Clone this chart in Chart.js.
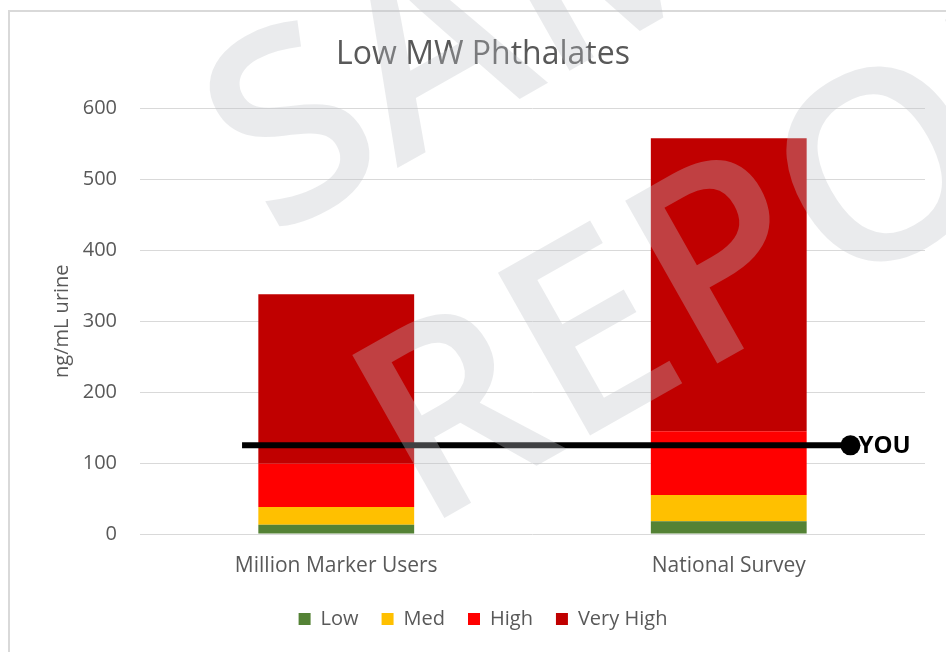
<!DOCTYPE html>
<html>
<head>
<meta charset="utf-8">
<script src="https://cdn.jsdelivr.net/npm/chart.js@4.4.1/dist/chart.umd.min.js"></script>
<style>
html,body{margin:0;padding:0;background:#fff;overflow:hidden}
canvas{display:block}
</style>
</head>
<body>
<canvas id="c" width="946" height="652"></canvas>
<script>
// ---- data ----
const categories = ['Million Marker Users', 'National Survey'];
const seriesNames = ['Low', 'Med', 'High', 'Very High'];
const lowValues = [13, 18];
const medValues = [25, 37];
const highValues = [61, 90];
const veryHighValues = [239, 413];
const yTicks = [0, 100, 200, 300, 400, 500, 600];
const youLabel = 'YOU';
const youValue = 125;
const youSpan = [-0.24, 1.31];
const watermarkLines = ['SAMPLE', 'REPORT'];

const FONT = "'Open Sans', sans-serif";
Chart.defaults.font.family = FONT;

const frame = {
  id: 'frame',
  beforeDraw(chart) {
    const c = chart.ctx;
    c.save();
    c.strokeStyle = '#d9d9d9';
    c.lineWidth = 2;
    c.strokeRect(9, 11, 3000, 3000);
    c.restore();
  }
};

const youText = {
  id: 'youText',
  afterDatasetsDraw(chart) {
    const idx = chart.data.datasets.findIndex(d => d.label === youLabel);
    const meta = chart.getDatasetMeta(idx);
    const pt = meta.data[meta.data.length - 1];
    const c = chart.ctx;
    c.save();
    c.font = "bold 24px " + FONT;
    c.fillStyle = '#000';
    c.textAlign = 'left';
    c.textBaseline = 'middle';
    c.fillText(youLabel, pt.x + 8, pt.y + 1);
    c.restore();
  }
};

const watermark = {
  id: 'watermark',
  afterDraw(chart) {
    const c = chart.ctx;
    const ang = -29.5 * Math.PI / 180;
    const origins = [[272, 239], [423, 530]];
    c.save();
    c.font = "600 262px " + FONT;
    c.fillStyle = 'rgba(192,195,200,0.33)';
    c.textAlign = 'left';
    c.textBaseline = 'alphabetic';
    watermarkLines.forEach((t, i) => {
      c.save();
      c.translate(origins[i][0], origins[i][1]);
      c.rotate(ang);
      c.fillText(t, 0, 0);
      c.restore();
    });
    c.restore();
  }
};

const colors = ['#548235', '#FFC000', '#FF0000', '#C00000'];
const values = [lowValues, medValues, highValues, veryHighValues];

const datasets = seriesNames.map((name, i) => ({
  label: name,
  data: values[i],
  backgroundColor: colors[i],
  borderWidth: 0,
  stack: 'bars',
  grouped: false,
  barPercentage: 0.397,
  categoryPercentage: 1
}));
datasets.push({
  type: 'line',
  label: youLabel,
  data: youSpan.map(x => ({ x: x, y: youValue })),
  xAxisID: 'x2',
  stack: 'you',
  borderColor: '#000',
  borderWidth: 6,
  pointRadius: [0, 10],
  pointHoverRadius: [0, 10],
  pointBackgroundColor: '#000',
  pointBorderWidth: 0,
  fill: false,
  order: -1
});

new Chart(document.getElementById('c'), {
  type: 'bar',
  data: { labels: categories, datasets: datasets },
  plugins: [frame, youText, watermark],
  options: {
    responsive: false,
    animation: false,
    layout: { padding: { top: 36, left: 41, right: 21, bottom: 13 } },
    plugins: {
      title: {
        display: true,
        text: 'Low MW Phthalates',
        color: '#595959',
        font: { size: 32, weight: 'normal' },
        padding: { top: 0, bottom: 34 }
      },
      legend: {
        position: 'bottom',
        labels: {
          boxWidth: 12,
          boxHeight: 12,
          padding: 23,
          color: '#595959',
          font: { size: 20 },
          filter: item => item.text !== youLabel
        }
      },
      tooltip: { enabled: false }
    },
    scales: {
      x: {
        type: 'category',
        stacked: true,
        offset: true,
        grid: { display: false, drawTicks: false, offset: true },
        border: { display: false },
        ticks: { color: '#595959', font: { size: 21 }, padding: 19 },
        afterFit: s => { s.height = 52; }
      },
      x2: { type: 'linear', display: false, offset: false, min: -0.5, max: 1.5, grid: { offset: false } },
      y: {
        stacked: true,
        min: yTicks[0],
        max: yTicks[yTicks.length - 1],
        afterBuildTicks: s => { s.ticks = yTicks.map(v => ({ value: v })); },
        ticks: { color: '#595959', font: { size: 20 }, padding: 23 },
        grid: { color: '#d9d9d9', lineWidth: 1, drawTicks: false },
        border: { display: false },
        title: {
          display: true,
          text: 'ng/mL urine',
          color: '#595959',
          font: { size: 20 },
          padding: { top: 9, bottom: 0 }
        },
        afterFit: s => { s.width = 99; }
      }
    }
  }
});
</script>
</body>
</html>
